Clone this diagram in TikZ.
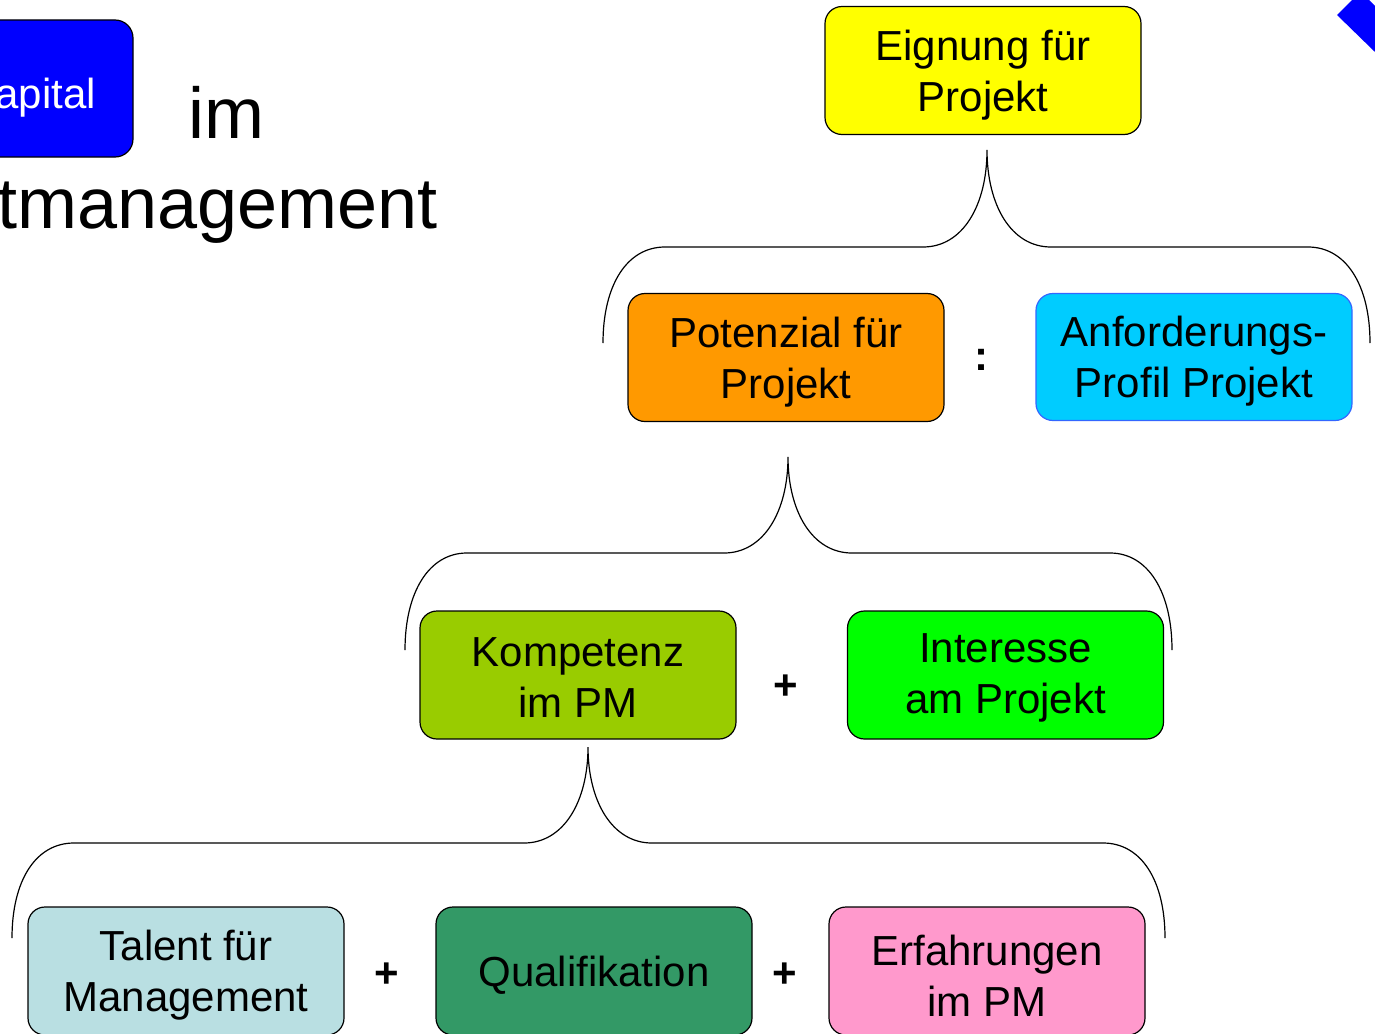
\documentclass[tikz,border=0pt]{standalone}
\usepackage{fontspec}
\setmainfont{Liberation Sans}
\newcommand\boxfont{\fontsize{42}{51}\selectfont}
\newcommand\titlefont{\fontsize{72}{86}\selectfont}
\definecolor{cyellow}{HTML}{FFFF00}
\definecolor{corange}{HTML}{FF9900}
\definecolor{ccyan}{HTML}{00CCFF}
\definecolor{ccyanb}{HTML}{3366FF}
\definecolor{ckomp}{HTML}{99CC00}
\definecolor{cint}{HTML}{00FF00}
\definecolor{ctal}{HTML}{B9DFE2}
\definecolor{cqual}{HTML}{339966}
\definecolor{cerf}{HTML}{FF99CC}
\definecolor{cblue}{HTML}{0000FF}
\newcommand\mybrace[6]{% L R T B H P
  \draw[bracestyle] (#1,#4) .. controls (#1,#4-58) and (#1+24,#5) .. (#1+62,#5)
    -- (#3-64,#5) .. controls (#3-24,#5) and (#3,#5-42) .. (#3,#6)
    .. controls (#3,#5-42) and (#3+24,#5) .. (#3+64,#5)
    -- (#2-62,#5) .. controls (#2-24,#5) and (#2,#4-58) .. (#2,#4);}
\begin{document}
\begin{tikzpicture}[x=1pt,y=-1pt,
  box/.style={rectangle, rounded corners=17pt, draw=black, line width=1.2pt,
    minimum width=316pt, minimum height=128pt, inner sep=0pt},
  boxtext/.style={align=center, font=\boxfont, inner sep=0pt},
  bracestyle/.style={draw=black, line width=1.2pt},
  op/.style={font=\boxfont\bfseries, inner sep=0pt}]
\useasboundingbox (0,0) rectangle (1375,1033);
% title fragments
\node[rectangle, rounded corners=18pt, draw=black, line width=1.2pt, fill=cblue,
  minimum width=173pt, minimum height=137pt, inner sep=0pt] (blue) at (46.5,88.5) {};
\node[anchor=base east, inner sep=0pt, text=white, font=\boxfont] (cap) at (96,108) {apital};
\node[anchor=base west, inner sep=0pt, font=\titlefont] (im) at (188,138) {im};
\node[anchor=base east, inner sep=0pt, font=\titlefont] (mgmt) at (438,228) {tmanagement};
% diamond fragment top right
\fill[cblue] (1337,15) -- (1352,0) -- (1369,0) -- (1375,6) -- (1375,52) -- cycle;
% boxes
\node[box, fill=cyellow] (eig) at (983,70.5) {};
\node[boxtext] (eigt) at ([yshift=-4.5pt]eig.center) {Eignung für\\Projekt};
\node[box, fill=corange] (pot) at (786,357.5) {};
\node[boxtext] (pott) at ([yshift=-4.5pt]pot.center) {Potenzial für\\Projekt};
\node[box, fill=ccyan, draw=ccyanb, minimum height=127pt] (anf) at (1194,357) {};
\node[boxtext] (anft) at ([yshift=-4.5pt]anf.center) {Anforderungs-\\Profil Projekt};
\node[op] (colon) at (981,360) {:};
\node[box, fill=ckomp] (komp) at (578,675) {};
\node[boxtext] (kompt) at ([yshift=-3pt]komp.center) {Kompetenz\\im PM};
\node[box, fill=cint] (int) at (1005.5,675) {};
\node[boxtext] (intt) at ([yshift=-3pt]int.center) {Interesse\\am Projekt};
\node[op] (plus1) at (786,687) {+};
\node[box, fill=ctal] (tal) at (186,971) {};
\node[boxtext] (talt) at ([yshift=-4.5pt]tal.center) {Talent für\\Management};
\node[box, fill=cqual] (qual) at (594,971) {};
\node[boxtext] (qualt) at ([yshift=-4.5pt]qual.center) {Qualifikation};
\node[box, fill=cerf] (erf) at (987,971) {};
\node[boxtext] (erft) at ([yshift=-4.5pt]erf.center) {Erfahrungen\\im PM};
\node[op] (plus2) at (387,975) {+};
\node[op] (plus3) at (785,975) {+};
% braces
\mybrace{603}{1370}{987}{343}{247}{150}
\mybrace{405}{1172}{788}{650}{553}{457}
\mybrace{12}{1165}{588}{938}{843}{747}
\end{tikzpicture}
\end{document}
